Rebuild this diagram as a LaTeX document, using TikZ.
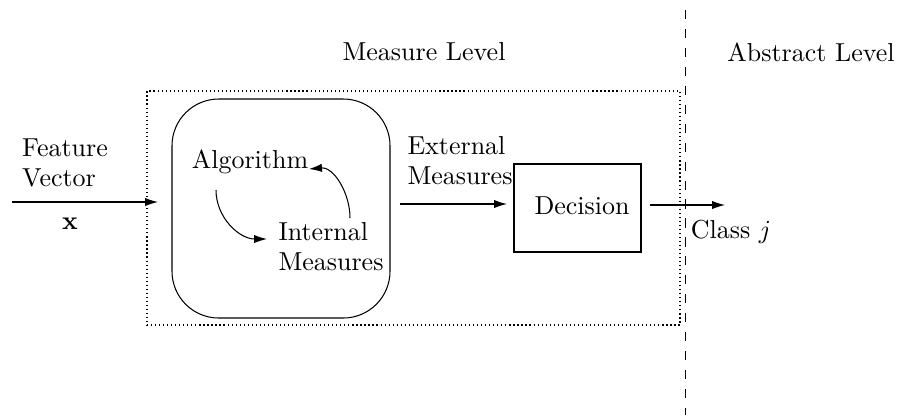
\documentclass[tikz,border=0pt]{standalone}
\usetikzlibrary{arrows.meta}
\begin{document}
\begin{tikzpicture}[x=0.385pt,y=-0.385pt,
  >={Latex[length=5pt,width=3.2pt]},
  lbl/.style={inner sep=0pt,align=left,font=\fontsize{10}{11.5}\selectfont},
  boxframe/.style={draw,inner sep=0pt},
  dotframe/.style={draw,dash pattern=on 0.45pt off 1.1pt,inner sep=0pt},
  sepline/.style={line width=0.35pt,dash pattern=on 3.5pt off 3.8pt,dash phase=3.5pt},
  conn/.style={->}]
\useasboundingbox (0,0) rectangle (901,415);
% frames
\node[dotframe,minimum width=533*0.385pt,minimum height=234*0.385pt] (frame) at (413.5,208) {};
\node[boxframe,rounded corners=18pt,minimum width=218*0.385pt,minimum height=219*0.385pt] (algbox) at (281,208.5) {};
\node[boxframe,minimum width=127*0.385pt,minimum height=88*0.385pt] (dec) at (577.5,208) {};
\node[lbl] at (582,206) {Decision};
% separator
\coordinate (septop) at (685,0);
\coordinate (sepbot) at (685,415);
\draw[sepline] (septop) -- (sepbot);
% labels
\node[lbl] (ml) at (424,52) {Measure Level};
\node[lbl] (al) at (811,52) {Abstract Level};
\node[lbl] (fv) at (65,163) {Feature\\Vector};
\node[lbl] (xv) at (70,224) {$\mathbf{x}$};
\node[lbl] (algo) at (250,162) {Algorithm};
\node[lbl] (im) at (331,247) {Internal\\Measures};
\node[lbl] (em) at (460,161) {External\\Measures};
\node[lbl] (cls) at (731,232) {Class $j$};
% connector ends
\coordinate (inS) at (12,202);
\coordinate (inE) at (158,202);
\coordinate (a1s) at (216,190);
\coordinate (a1e) at (267,239);
\coordinate (a2s) at (350,218);
\coordinate (a2e) at (309,169);
\coordinate (exS) at (400,204);
\coordinate (exE) at (507,204);
\coordinate (ouS) at (650,205);
\coordinate (ouE) at (725,205);
% connectors
\draw[conn] (inS) -- (inE);
\draw[conn] (a1s) to[out=-90,in=180] (a1e);
\draw[conn] (a2s) to[out=90,in=5] (a2e);
\draw[conn] (exS) -- (exE);
\draw[conn] (ouS) -- (ouE);
\end{tikzpicture}
\end{document}
